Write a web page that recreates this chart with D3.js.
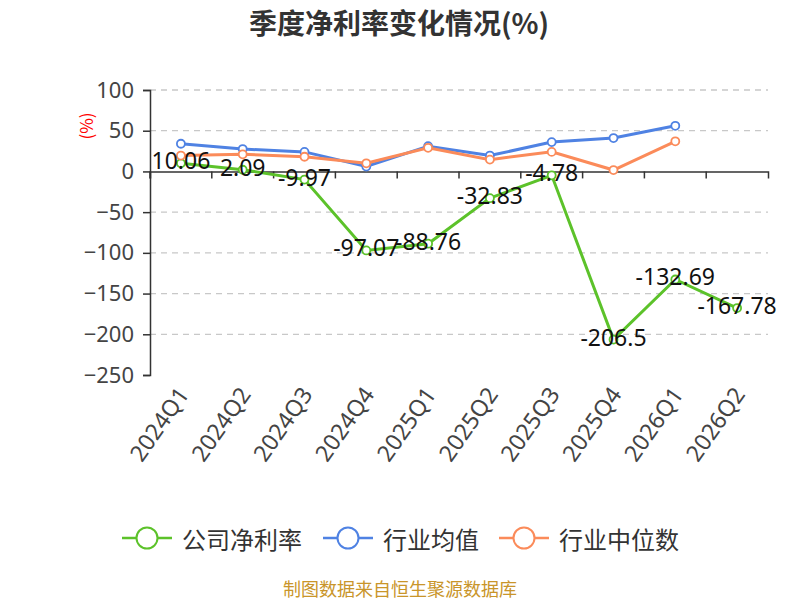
<!DOCTYPE html>
<html>
<head>
<meta charset="utf-8">
<script src="https://cdn.jsdelivr.net/npm/d3@7"></script>
<style>
  body { margin: 0; background: #fff; }
  text { font-family: "Noto Sans CJK SC", "Noto Sans", sans-serif; }
</style>
</head>
<body>
<div id="chart"></div>
<script>
// Data.
const quarters = ["2024Q1", "2024Q2", "2024Q3", "2024Q4", "2025Q1", "2025Q2", "2025Q3", "2025Q4", "2026Q1", "2026Q2"];
const companyMargin = [10.06, 2.09, -9.97, -97.07, -88.76, -32.83, -4.78, -206.5, -132.69, -167.78];
const industryAvg = [34, 27.5, 24, 6, 31, 19.5, 36, 41, 56, null];
const industryMedian = [19.5, 21, 18, 10, 29, 14.5, 24, 1.7, 37, null];
const yTicks = [100, 50, 0, -50, -100, -150, -200, -250];

const seriesList = [
  { name: "公司净利率", values: companyMargin, color: "#5cc22a" },
  { name: "行业均值", values: industryAvg, color: "#4f82e3" },
  { name: "行业中位数", values: industryMedian, color: "#fb8b5a" }
];

const W = 800, H = 600;
const plotLeft = 150, plotRight = 768, plotTop = 90, plotBottom = 375;

const svg = d3.select("#chart").append("svg")
  .attr("width", W)
  .attr("height", H);

// Title.
svg.append("text")
  .attr("x", 399).attr("y", 34)
  .attr("text-anchor", "middle")
  .attr("font-size", 28).attr("font-weight", "bold")
  .attr("fill", "#333")
  .text("季度净利率变化情况(%)");

// Scales.
const x = d3.scaleBand().domain(quarters).range([plotLeft, plotRight]);
const y = d3.scaleLinear().domain([-250, 100]).range([plotBottom, plotTop]);
const cx = d => x(d) + x.bandwidth() / 2;

// Grid lines.
svg.append("g")
  .selectAll("line")
  .data(yTicks.filter(t => t !== 0 && t !== -250))
  .join("line")
  .attr("x1", plotLeft).attr("x2", plotRight)
  .attr("y1", d => y(d)).attr("y2", d => y(d))
  .attr("stroke", "#c8c8c8")
  .attr("stroke-width", 1.3)
  .attr("stroke-dasharray", "6,5");

// Y axis.
const yAxis = svg.append("g")
  .attr("transform", `translate(${plotLeft},0)`)
  .call(d3.axisLeft(y).tickValues(yTicks).tickSize(7).tickPadding(9));
yAxis.select(".domain").attr("stroke", "#333").attr("stroke-width", 1.5);
yAxis.selectAll(".tick line").attr("stroke", "#333").attr("stroke-width", 1.5);
yAxis.selectAll(".tick text")
  .attr("font-size", 22)
  .attr("fill", "#444")
  .style("font-family", "'Noto Sans', sans-serif");

// Y unit label.
svg.append("text")
  .attr("transform", `translate(93,126) rotate(-90)`)
  .attr("text-anchor", "middle")
  .attr("font-size", 17)
  .attr("fill", "red")
  .text("(%)");

// X axis at zero.
const xAxis = svg.append("g")
  .attr("transform", `translate(0,${y(0)})`)
  .call(d3.axisBottom(x).tickSize(7).tickSizeOuter(7).tickFormat(""));
xAxis.select(".domain").attr("stroke", "#333").attr("stroke-width", 1.5);
xAxis.selectAll(".tick line")
  .attr("stroke", "#333").attr("stroke-width", 1.5)
  .attr("transform", `translate(${-x.bandwidth() / 2},0)`);

// X category labels along the bottom, rotated.
svg.append("g")
  .selectAll("text")
  .data(quarters)
  .join("text")
  .attr("transform", d => `translate(${cx(d) + 4},${plotBottom + 16}) rotate(-55)`)
  .attr("text-anchor", "end")
  .attr("dominant-baseline", "middle")
  .attr("font-size", 23)
  .attr("fill", "#444")
  .style("font-family", "'Noto Sans', sans-serif")
  .text(d => d);

// Lines and markers.
const line = d3.line()
  .defined(d => d.v !== null)
  .x(d => cx(d.q))
  .y(d => y(d.v));

seriesList.forEach(s => {
  const pts = quarters.map((q, i) => ({ q: q, v: s.values[i] }));
  const g = svg.append("g");
  g.append("path")
    .datum(pts)
    .attr("fill", "none")
    .attr("stroke", s.color)
    .attr("stroke-width", 3)
    .attr("d", line);
  g.selectAll("circle")
    .data(pts.filter(d => d.v !== null))
    .join("circle")
    .attr("cx", d => cx(d.q))
    .attr("cy", d => y(d.v))
    .attr("r", 4)
    .attr("fill", "#fff")
    .attr("stroke", s.color)
    .attr("stroke-width", 1.8);
});

// Value labels for the company series.
svg.append("g")
  .selectAll("text")
  .data(quarters.map((q, i) => ({ q: q, v: companyMargin[i] })))
  .join("text")
  .attr("x", d => cx(d.q))
  .attr("y", d => y(d.v) - 3)
  .attr("text-anchor", "middle")
  .attr("dominant-baseline", "central")
  .attr("font-size", 23)
  .attr("fill", "#111")
  .style("font-family", "'Noto Sans', sans-serif")
  .text(d => d.v);

// Legend.
const legendX = [122, 323, 499];
const legend = svg.append("g").selectAll("g")
  .data(seriesList)
  .join("g")
  .attr("transform", (d, i) => `translate(${legendX[i]},538)`);
legend.append("line")
  .attr("x1", 0).attr("x2", 50)
  .attr("stroke", d => d.color)
  .attr("stroke-width", 2.5);
legend.append("circle")
  .attr("cx", 25).attr("r", 10.5)
  .attr("fill", "#fff")
  .attr("stroke", d => d.color)
  .attr("stroke-width", 2);
legend.append("text")
  .attr("x", 60).attr("y", 0)
  .attr("dominant-baseline", "central")
  .attr("font-size", 24)
  .attr("fill", "#333")
  .text(d => d.name);

// Footer.
svg.append("text")
  .attr("x", 400).attr("y", 596)
  .attr("text-anchor", "middle")
  .attr("font-size", 18)
  .attr("fill", "#c9952a")
  .text("制图数据来自恒生聚源数据库");
</script>
</body>
</html>
